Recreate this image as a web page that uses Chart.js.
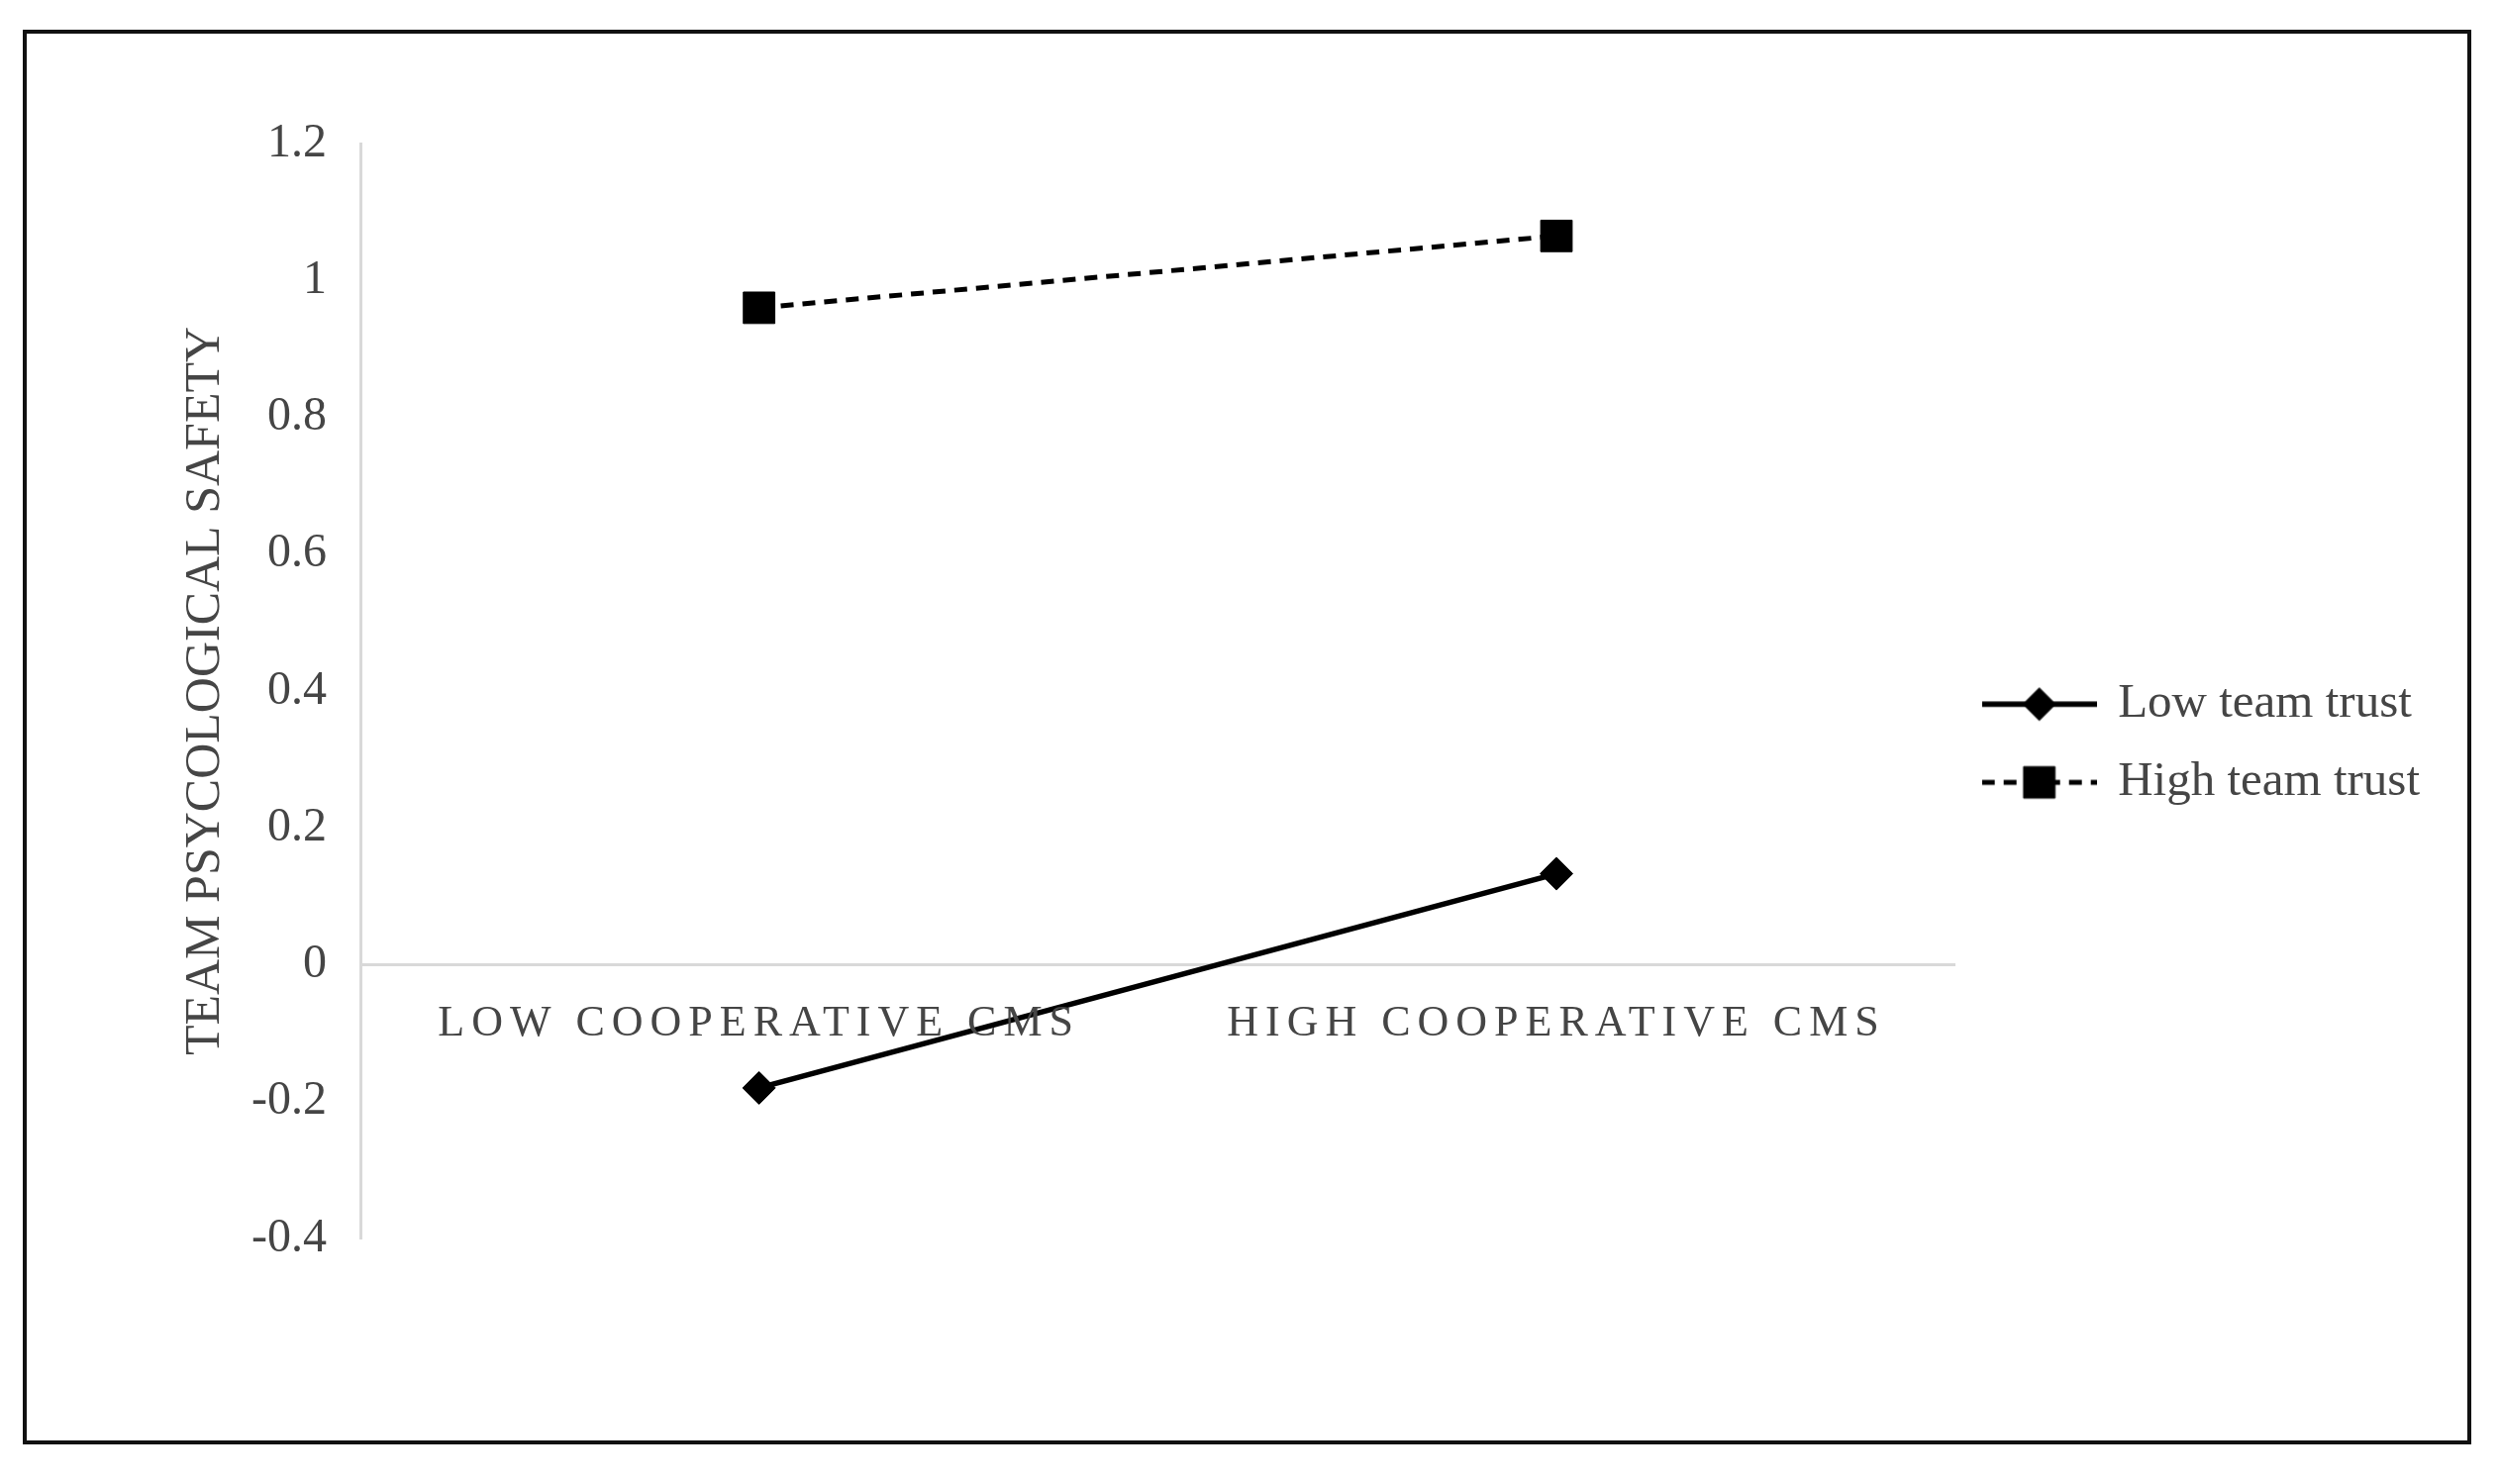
<!DOCTYPE html>
<html>
<head>
<meta charset="utf-8">
<script src="https://cdn.jsdelivr.net/npm/chart.js@4.4.1/dist/chart.umd.min.js"></script>
<style>
  html, body { margin:0; padding:0; background:#fff; }
  #frame { position:absolute; left:23px; top:30px; width:2465px; height:1421px; border:4px solid #111; }
</style>
</head>
<body>
<div id="frame"><canvas id="chart"></canvas></div>
<script>
const categories = ['LOW COOPERATIVE CMS', 'HIGH COOPERATIVE CMS'];
const lowTeamTrust = [-0.18, 0.133];
const highTeamTrust = [0.96, 1.065];
const yTickValues = [-0.4, -0.2, 0, 0.2, 0.4, 0.6, 0.8, 1, 1.2];
const yTitle = 'TEAM PSYCOLOGICAL SAFETY';

const serif = '"Liberation Serif", "Times New Roman", serif';
const textGrey = '#454545';
const axisGrey = '#d9d9d9';

// line + marker sample for the legend, drawn with Chart's own point helper
function legendSymbol(ds) {
  const c = document.createElement('canvas');
  c.width = 116; c.height = 48;
  const g = c.getContext('2d');
  g.strokeStyle = '#000'; g.fillStyle = '#000';
  g.lineWidth = ds.borderWidth;
  g.setLineDash(ds.borderDash || []);
  g.beginPath(); g.moveTo(0, 24); g.lineTo(116, 24); g.stroke();
  g.setLineDash([]);
  g.lineWidth = 1;
  Chart.helpers.drawPoint(g, { pointStyle: ds.pointStyle, radius: ds.pointRadius, borderWidth: 1 }, 58, 24);
  return c;
}

// spaced capitals on the category labels (x ticks are drawn after the datasets)
const xLabelSpacing = {
  id: 'xLabelSpacing',
  afterDatasetsDraw(chart) { chart.ctx.letterSpacing = '7px'; },
  afterDraw(chart) { chart.ctx.letterSpacing = '0px'; }
};

new Chart(document.getElementById('chart'), {
  type: 'line',
  data: {
    labels: categories,
    datasets: [
      { label:'Low team trust', data:lowTeamTrust, borderColor:'#000', backgroundColor:'#000', borderWidth:5.5,
        pointStyle:'rectRot', pointRadius:16.5, pointBackgroundColor:'#000', pointBorderColor:'#000', pointBorderWidth:1, tension:0 },
      { label:'High team trust', data:highTeamTrust, borderColor:'#000', backgroundColor:'#000', borderWidth:5, borderDash:[13,9],
        pointStyle:'rect', pointRadius:22.5, pointBackgroundColor:'#000', pointBorderColor:'#000', pointBorderWidth:1, tension:0 }
    ]
  },
  plugins: [xLabelSpacing],
  options: {
    responsive:true, maintainAspectRatio:false, animation:false,
    layout: { padding: { left:151, top:111, right:38, bottom:204 } },
    plugins: {
      tooltip: { enabled:false },
      legend: {
        position:'right',
        title: { display:true, text:'', font:{ size:88, lineHeight:1.2 }, padding:0 },
        labels: {
          usePointStyle:true, pointStyleWidth:110, padding:30, color:textGrey,
          font:{ family:serif, size:49 },
          generateLabels(chart) {
            return Chart.defaults.plugins.legend.labels.generateLabels(chart).map(item => {
              item.pointStyle = legendSymbol(chart.data.datasets[item.datasetIndex]);
              item.fontColor = textGrey;
              return item;
            });
          }
        }
      }
    },
    scales: {
      x: {
        position: { y: 0 }, offset:true,
        grid: { display:false, drawTicks:false },
        border: { display:true, color:axisGrey, width:3 },
        ticks: { color:textGrey, font:{ family:serif, size:44 }, padding:34, maxRotation:0, z:1 }
      },
      y: {
        min:-0.4, max:1.2,
        afterBuildTicks: s => { s.ticks = yTickValues.map(v => ({ value:v })); },
        afterFit: s => { s.width = 186; },
        grid: { display:false, drawTicks:false },
        border: { display:true, color:axisGrey, width:3 },
        ticks: { color:textGrey, font:{ family:serif, size:48 }, padding:34, callback: v => String(v) },
        title: { display:true, text:yTitle, color:textGrey, font:{ family:serif, size:50 }, padding:0 }
      }
    }
  }
});
</script>
</body>
</html>
